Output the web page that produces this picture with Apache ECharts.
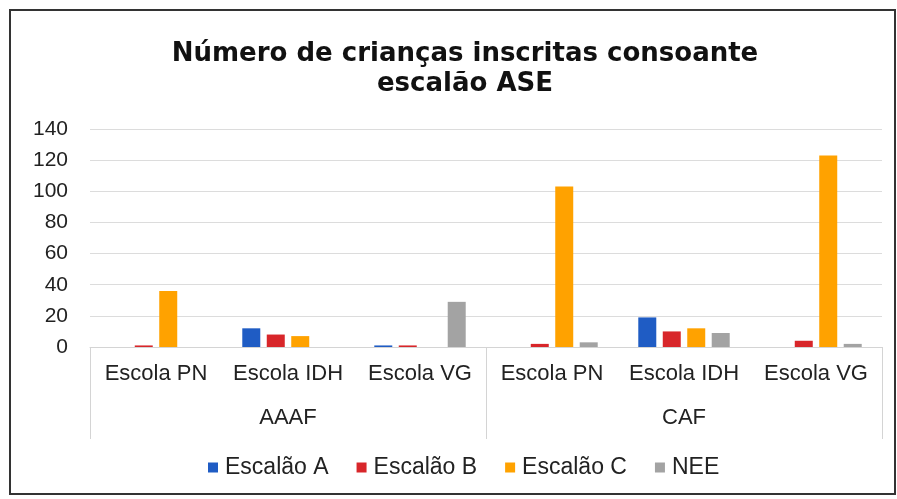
<!DOCTYPE html>
<html><head><meta charset="utf-8">
<script src="https://cdn.jsdelivr.net/npm/echarts@6/dist/echarts.min.js"></script>
<style>html,body{margin:0;padding:0;background:#fff}#c{width:897px;height:499px}</style>
</head><body><div id="c"></div>
<script>
const groups = ['AAAF', 'CAF'];
const schools = ['Escola PN', 'Escola IDH', 'Escola VG', 'Escola PN', 'Escola IDH', 'Escola VG'];
const seriesNames = ['Escalão A', 'Escalão B', 'Escalão C', 'NEE'];
const escalaoA = [0, 12, 1, 0, 19, 0];
const escalaoB = [1, 8, 1, 2, 10, 4];
const escalaoC = [36, 7, 0, 103, 12, 123];
const nee = [0, 0, 29, 3, 9, 2];
const yTicks = [0, 20, 40, 60, 80, 100, 120, 140];
const colors = ['#1F5CC4', '#D8262A', '#FFA200', '#A3A3A3'];
const values = [escalaoA, escalaoB, escalaoC, nee];

const chart = echarts.init(document.getElementById('c'));
chart.setOption({
  animation: false,
  title: {
    text: 'Número de crianças inscritas consoante\nescalão ASE',
    left: 460, top: 34, textAlign: 'center',
    textStyle: { fontFamily: 'DejaVu Sans', fontWeight: 'bold', fontSize: 26, color: '#111', lineHeight: 30 }
  },
  legend: {
    data: seriesNames, top: 451, left: 203,
    itemWidth: 10, itemHeight: 10, itemGap: 28, icon: 'rect',
    textStyle: { fontFamily: 'Liberation Sans', fontSize: 23, color: '#222', padding: [0, 0, 0, 2] }
  },
  grid: { left: 90, right: 15, top: 129, bottom: 152 },
  xAxis: [
    { type: 'category', data: schools, position: 'bottom',
      axisLine: { show: true, lineStyle: { color: '#d4d4d4' } },
      axisTick: { show: false },
      axisLabel: { interval: 0, margin: 16, fontFamily: 'Liberation Sans', fontSize: 22, color: '#222' } },
    { type: 'category', data: groups, position: 'bottom',
      axisLine: { show: false },
      axisTick: { show: true, length: 92, lineStyle: { color: '#d4d4d4' } },
      axisLabel: { interval: 0, margin: 60, fontFamily: 'Liberation Sans', fontSize: 22, color: '#222' } }
  ],
  yAxis: {
    type: 'value', min: 0, max: 140, interval: 20,
    axisLine: { show: false }, axisTick: { show: false },
    splitLine: { lineStyle: { color: '#dcdcdc' } },
    axisLabel: { margin: 22, fontFamily: 'Liberation Sans', fontSize: 21, color: '#222',
      formatter: v => yTicks.includes(v) ? String(v) : '' }
  },
  series: seriesNames.map((n, i) => ({
    name: n, type: 'bar', xAxisIndex: 0, data: values[i],
    barWidth: 18, barGap: '36%',
    itemStyle: { color: colors[i] }
  })),
  graphic: [{
    type: 'rect', shape: { x: 10, y: 10, width: 885, height: 484 },
    style: { fill: 'none', stroke: '#333', lineWidth: 2 }, silent: true
  }]
});
</script></body></html>
